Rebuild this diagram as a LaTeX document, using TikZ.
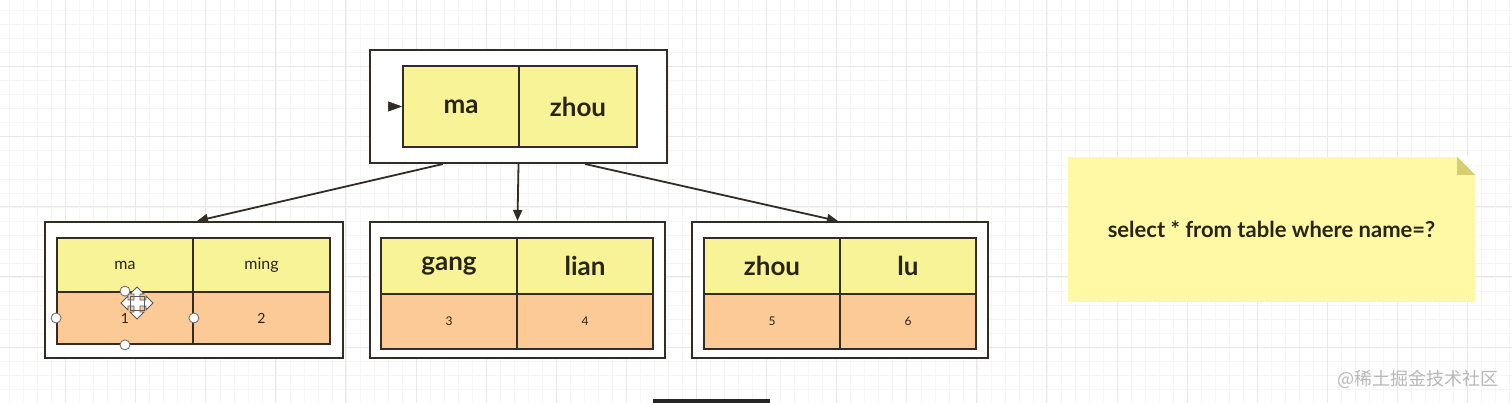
\documentclass[tikz,border=0pt]{standalone}
\usepackage{fontspec}
\setmainfont{Lato}
\newfontfamily\cjk{Noto Sans CJK SC}
\usetikzlibrary{arrows.meta}
\definecolor{cellY}{RGB}{248,243,150}
\definecolor{cellO}{RGB}{252,202,150}
\definecolor{noteY}{RGB}{255,249,165}
\definecolor{noteFold}{RGB}{214,206,112}
\definecolor{lineD}{RGB}{50,44,36}
\definecolor{textD}{RGB}{40,36,24}
\definecolor{gridMin}{RGB}{245,245,245}
\definecolor{gridMaj}{RGB}{232,232,232}
\tikzset{
  x=1pt, y=-1pt,
  outerbox/.style={draw=lineD, line width=2pt, fill=white, inner sep=0pt},
  ycell/.style={draw=lineD, line width=1.8pt, fill=cellY, inner sep=0pt, text=textD},
  ocell/.style={draw=lineD, line width=1.8pt, fill=cellO, inner sep=0pt, text=textD},
  bigtxt/.style={font=\fontsize{26}{28}\selectfont\bfseries},
  smalltxt/.style={font=\fontsize{12}{14}\selectfont},
  midtxt/.style={font=\fontsize{14}{16}\selectfont},
  keytxt/.style={font=\fontsize{16}{18}\selectfont},
  arr/.style={draw=lineD, line width=1.8pt, -{Triangle[length=11pt,width=9pt]}},
  handle/.style={circle, draw=gray!80!black, line width=0.8pt, fill=white, inner sep=0pt, minimum size=10pt},
}
\begin{document}
\begin{tikzpicture}
\useasboundingbox (0,0) rectangle (1512,403);
\fill[white] (0,0) rectangle (1512,403);
% grid
\foreach \i in {0,...,108} {\draw[gridMin, line width=0.6pt] ({9.5+14.02*\i},0) -- ({9.5+14.02*\i},403);}
\foreach \i in {0,...,29} {\draw[gridMin, line width=0.6pt] (0,{10.6+14.02*\i}) -- (1512,{10.6+14.02*\i});}
\foreach \i in {0,...,21} {\draw[gridMaj, line width=1pt] ({-4.6+70.1*\i},0) -- ({-4.6+70.1*\i},403);}
\foreach \i in {0,...,5} {\draw[gridMaj, line width=1pt] (0,{-3.4+70.1*\i}) -- (1512,{-3.4+70.1*\i});}

% root node
\node[outerbox, minimum width=297, minimum height=113] (root) at (518.5,106.5) {};
\node[ycell, bigtxt, minimum width=116, minimum height=81] (r1) at (461,106.5) {ma};
\node[ycell, bigtxt, minimum width=118, minimum height=81] (r2) at (578,106.5) {zhou};
\coordinate (entry) at (388,106.5);
\draw[draw=lineD, line width=0.5pt, -{Triangle[length=14pt,width=10pt]}] (entry) -- (r1.west);

% left child
\node[outerbox, minimum width=298, minimum height=136] (L) at (193.5,290) {};
\node[ycell, keytxt, minimum width=136, minimum height=54] (l1) at (125,265) {ma};
\node[ycell, keytxt, minimum width=137, minimum height=54] (l2) at (261.5,265) {ming};
\node[ocell, midtxt, minimum width=136, minimum height=52] (l3) at (125,318) {1};
\node[ocell, midtxt, minimum width=137, minimum height=52] (l4) at (261.5,318) {2};

% middle child
\node[outerbox, minimum width=295, minimum height=136] (M) at (517.5,290) {};
\node[ycell, bigtxt, minimum width=136, minimum height=56] (m1) at (449,266) {gang};
\node[ycell, bigtxt, minimum width=136, minimum height=56] (m2) at (585,266) {lian};
\node[ocell, smalltxt, minimum width=136, minimum height=55] (m3) at (449,321.5) {3};
\node[ocell, smalltxt, minimum width=136, minimum height=55] (m4) at (585,321.5) {4};

% right child
\node[outerbox, minimum width=296, minimum height=136] (R) at (840,290) {};
\node[ycell, bigtxt, minimum width=136, minimum height=56] (k1) at (772,266) {zhou};
\node[ycell, bigtxt, minimum width=136, minimum height=56] (k2) at (908,266) {lu};
\node[ocell, smalltxt, minimum width=136, minimum height=55] (k3) at (772,321.5) {5};
\node[ocell, smalltxt, minimum width=136, minimum height=55] (k4) at (908,321.5) {6};

% connectors
\draw[arr] ([xshift=-75.5]root.south) -- ([xshift=3.5]L.north);
\draw[arr] (root.south) -- (M.north);
\draw[arr] ([xshift=66.5]root.south) -- ([xshift=-2]R.north);

% selection handles and move cursor on cell "1"
\node[handle] (h1) at (l3.north) {};
\node[handle] (h2) at (l3.west) {};
\node[handle] (h3) at (l3.east) {};
\node[handle] (h4) at (l3.south) {};
\begin{scope}[shift={(137,303)}]
\draw[fill=white, draw=gray!70!black, line width=0.8pt, line join=miter]
 (0,-16) -- (7,-9) -- (3,-9) -- (3,-3) -- (9,-3) -- (9,-7) -- (16,0) -- (9,7) -- (9,3) -- (3,3) -- (3,9) -- (7,9) -- (0,16) -- (-7,9) -- (-3,9) -- (-3,3) -- (-9,3) -- (-9,7) -- (-16,0) -- (-9,-7) -- (-9,-3) -- (-3,-3) -- (-3,-9) -- (-7,-9) -- cycle;
\draw[gray!70!black, line width=0.8pt] (-7,-7) rectangle (7,7);
\end{scope}

% note
\node[fill=noteY, minimum width=407, minimum height=145, inner sep=0pt,
      font=\fontsize{22}{24}\selectfont\bfseries, text=textD] (note) at (1271.5,229.5) {select * from table where name=?};
\fill[white] ([xshift=-18]note.north east) -- (note.north east) -- ([yshift=-18]note.north east) -- cycle;
\fill[noteFold] ([xshift=-18]note.north east) -- ([xshift=-18,yshift=-18]note.north east) -- ([yshift=-18]note.north east) -- cycle;

% watermark and bottom bar
\node[text=black!28, font=\cjk\fontsize{18}{20}\selectfont] (wm) at (1418,379) {@稀土掘金技术社区};
\fill[black!85] (653,399) rectangle (770,403);
\end{tikzpicture}
\end{document}
